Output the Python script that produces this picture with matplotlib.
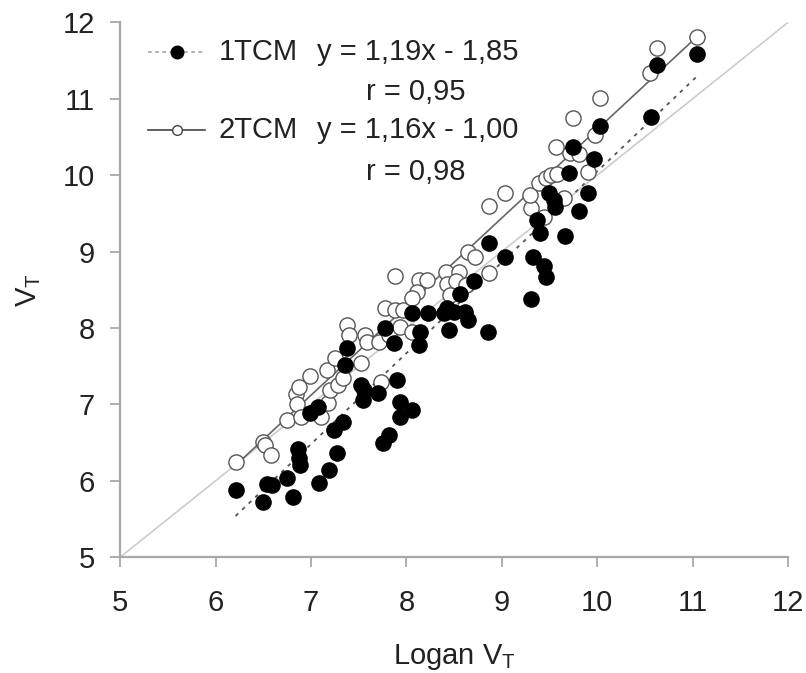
import numpy as np
import matplotlib
matplotlib.use("agg")
import matplotlib.pyplot as plt
from matplotlib.lines import Line2D

plt.rcParams['font.family'] = ['Liberation Sans', 'DejaVu Sans']

# 1TCM (filled) : Logan VT vs VT
tcm1_x = [6.21, 6.50, 6.54, 6.59, 6.75, 6.81, 6.86, 6.87, 6.88, 7.08, 7.19, 7.27,
          7.24, 7.33, 6.99, 7.07, 7.38, 7.36, 7.52, 7.55, 7.54, 7.70, 7.75, 7.82,
          7.90, 7.93, 8.06, 7.93, 7.78, 7.87, 8.06, 8.23, 8.39, 8.14, 8.13, 8.45,
          8.43, 8.50, 8.61, 8.64, 8.56, 8.71, 8.85, 8.87, 9.03, 9.31, 9.33, 9.44,
          9.46, 9.37, 9.40, 9.49, 9.55, 9.56, 9.66, 9.70, 9.74, 9.81, 9.90, 9.97,
          10.03, 10.56, 10.62, 11.04]
tcm1_y = [5.88, 5.72, 5.96, 5.94, 6.04, 5.79, 6.41, 6.30, 6.21, 5.97, 6.14, 6.37,
          6.67, 6.77, 6.89, 6.96, 7.74, 7.52, 7.25, 7.19, 7.06, 7.15, 6.50, 6.60,
          7.32, 7.03, 6.93, 6.84, 8.00, 7.80, 8.20, 8.20, 8.20, 7.95, 7.78, 7.97,
          8.26, 8.21, 8.21, 8.10, 8.45, 8.62, 7.95, 9.11, 8.93, 8.38, 8.93, 8.81,
          8.66, 9.41, 9.24, 9.76, 9.67, 9.58, 9.20, 10.03, 10.37, 9.53, 9.76, 10.21,
          10.64, 10.76, 11.44, 11.59]

# 2TCM (open)
tcm2_x = [6.21, 6.50, 6.52, 6.58, 6.75, 6.84, 6.87, 6.85, 6.89, 6.99, 7.10, 7.18,
          7.20, 7.28, 7.34, 7.17, 7.25, 7.38, 7.40, 7.52, 7.57, 7.59, 7.71, 7.82,
          7.93, 8.06, 7.73, 7.78, 7.88, 7.96, 7.88, 8.13, 8.22, 8.41, 8.55, 8.43,
          8.52, 8.11, 8.06, 8.64, 8.72, 8.87, 8.62, 8.46, 8.86, 9.03, 9.31, 9.29,
          9.39, 9.46, 9.51, 9.58, 9.44, 9.65, 9.57, 9.71, 9.81, 9.98, 9.90, 9.74,
          10.03, 10.55, 10.62, 11.04]
tcm2_y = [6.24, 6.51, 6.47, 6.34, 6.80, 7.13, 7.23, 7.00, 6.83, 7.37, 6.84, 7.02,
          7.19, 7.25, 7.35, 7.45, 7.61, 8.04, 7.91, 7.54, 7.91, 7.82, 7.82, 7.91,
          8.01, 7.95, 7.29, 8.26, 8.24, 8.24, 8.68, 8.63, 8.63, 8.73, 8.73, 8.58,
          8.62, 8.47, 8.39, 8.99, 8.93, 8.72, 8.56, 8.43, 9.60, 9.76, 9.57, 9.74,
          9.89, 9.96, 10.00, 10.02, 9.45, 9.70, 10.37, 10.29, 10.28, 10.53, 10.04, 10.75,
          11.01, 11.33, 11.66, 11.80]

# regression (slope, intercept, r) as printed
fit1 = (1.19, -1.85, 0.95)
fit2 = (1.16, -1.00, 0.98)

fig = plt.figure(figsize=(8.06, 6.73), dpi=100)
ax = fig.add_axes([0.149, 0.172, 0.829, 0.795])

tc = '#222222'
sc = '#a8a8a8'
fs = 21

ax.plot([5, 12], [5, 12], color='#cccccc', lw=1.2, zorder=1)

xs1 = np.array([min(tcm1_x), max(tcm1_x)])
ax.plot(xs1, fit1[0] * xs1 + fit1[1], color='#555555', lw=1.3,
        linestyle=(0, (2, 3)), zorder=2)
xs2 = np.array([min(tcm2_x), max(tcm2_x)])
ax.plot(xs2, fit2[0] * xs2 + fit2[1], color='#666666', lw=1.2, zorder=2)

ax.scatter(tcm2_x, tcm2_y, s=120, facecolors='white', edgecolors='#555555',
           linewidths=1.0, zorder=3)
ax.scatter(tcm1_x, tcm1_y, s=120, color='black', zorder=4)

ax.set_xlim(5, 12)
ax.set_ylim(5, 12)
ax.set_xticks(range(5, 13))
ax.set_yticks(range(5, 13))
for s in ['top', 'right']:
    ax.spines[s].set_visible(False)
for s in ['left', 'bottom']:
    ax.spines[s].set_color(sc)
    ax.spines[s].set_linewidth(1.6)
ax.tick_params(direction='out', length=7, width=1.3, color=sc,
               labelsize=fs, labelcolor=tc)
ax.tick_params(axis='x', pad=16)
ax.tick_params(axis='y', pad=11)

ax.set_xlabel('Logan V$_\\mathregular{T}$', fontsize=fs, color=tc, labelpad=18)
ax.set_ylabel('V$_\\mathregular{T}$', fontsize=fs, color=tc, labelpad=14)

# legend drawn by hand
ax.add_line(Line2D([0.042, 0.127], [0.944, 0.944], transform=ax.transAxes,
                   color='#aaaaaa', lw=1.3, linestyle=(0, (2, 2))))
ax.add_line(Line2D([0.085], [0.944], transform=ax.transAxes, marker='o',
                   markersize=9, color='black', linestyle='none'))
ax.add_line(Line2D([0.042, 0.127], [0.798, 0.798], transform=ax.transAxes,
                   color='#444444', lw=1.2))
ax.add_line(Line2D([0.085], [0.798], transform=ax.transAxes, marker='o',
                   markersize=7, markerfacecolor='white', markeredgecolor='#444444',
                   markeredgewidth=1.0, linestyle='none'))

ax.text(0.147, 0.944, '1TCM', transform=ax.transAxes, fontsize=fs, color=tc, va='center')
ax.text(0.294, 0.944, 'y = %s' % f"{fit1[0]:.2f}x - {abs(fit1[1]):.2f}".replace('.', ','),
        transform=ax.transAxes, fontsize=fs, color=tc, va='center')
ax.text(0.368, 0.869, 'r = ' + f"{fit1[2]:.2f}".replace('.', ','),
        transform=ax.transAxes, fontsize=fs, color=tc, va='center')
ax.text(0.147, 0.798, '2TCM', transform=ax.transAxes, fontsize=fs, color=tc, va='center')
ax.text(0.294, 0.798, 'y = %s' % f"{fit2[0]:.2f}x - {abs(fit2[1]):.2f}".replace('.', ','),
        transform=ax.transAxes, fontsize=fs, color=tc, va='center')
ax.text(0.368, 0.720, 'r = ' + f"{fit2[2]:.2f}".replace('.', ','),
        transform=ax.transAxes, fontsize=fs, color=tc, va='center')

fig.savefig('out.png', dpi=100)
